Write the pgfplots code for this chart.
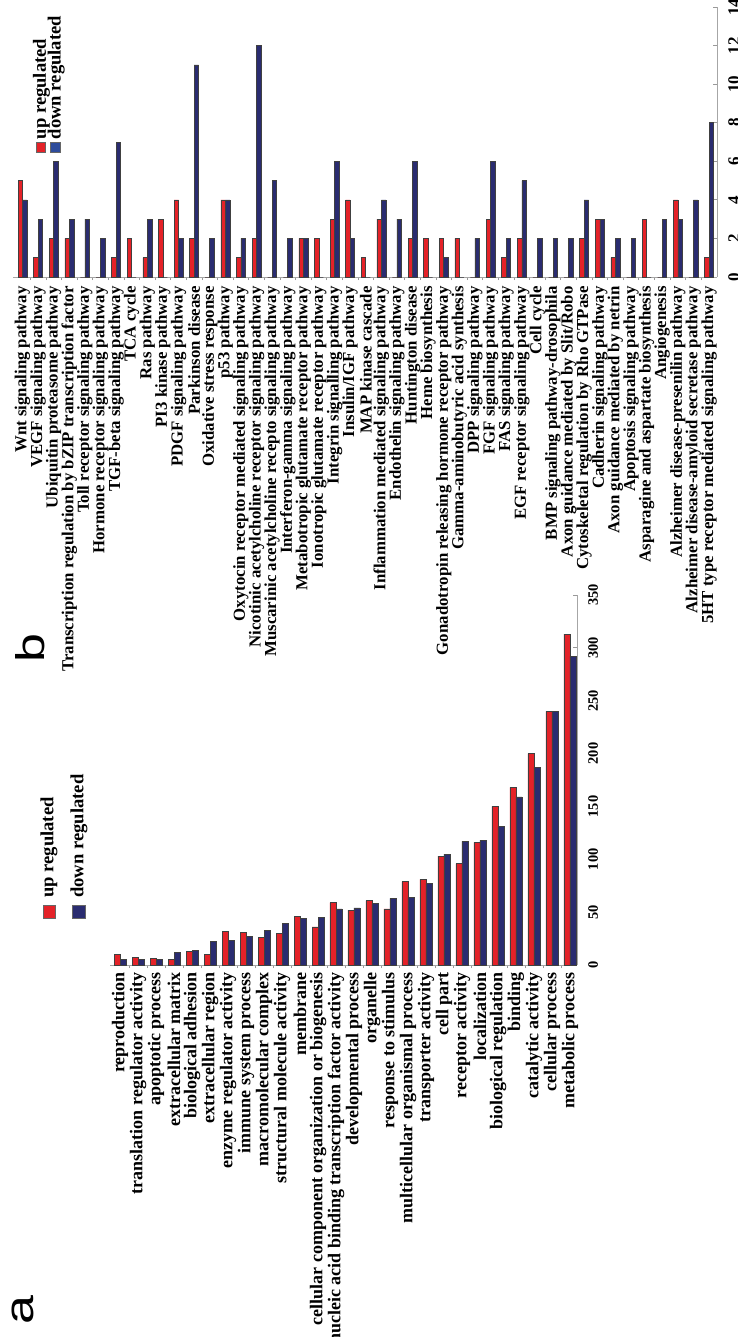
\documentclass[border=0pt]{standalone}
\usepackage{fontspec}
\setmainfont{Liberation Serif}
\newfontfamily\panelfont{Liberation Sans}
\usepackage{pgfplots}
\pgfplotsset{compat=1.18}
\definecolor{upred}{RGB}{228,34,40}
\definecolor{downblue}{RGB}{42,44,112}
\definecolor{legblue}{RGB}{45,75,155}
\tikzset{legtext/.style={rotate=90, anchor=west, inner sep=0pt, font=\bfseries\fontsize{9.3}{9.3}\selectfont}}

\begin{document}
\begin{tikzpicture}
\pgfplotsset{
  gobar/.style={
    ybar=0pt, scale only axis, clip=false,
    axis x line*=bottom, axis y line*=right,
    axis line style={gray!70, line width=0.5pt},
    xtick=data, major x tick style={draw=none},
    minor x tick num=1, minor x tick style={gray!80, line width=0.4pt},
    minor tick length=1.6pt, major tick length=2pt,
    ymin=0, enlarge y limits=false,
    ytick style={gray!80, line width=0.4pt},
    /pgf/number format/assume math mode=true,
    xticklabel style={rotate=90, anchor=east, inner sep=0pt},
    yticklabel style={rotate=90, anchor=north, inner sep=0pt},
    every axis plot/.append style={draw=black!75, line width=0.3pt},
  },
}
% ---------------- panel b ----------------
\begin{axis}[gobar,
  at={(6.5pt,-138.5pt)}, anchor=south west,
  width=352pt, height=135pt,
  xmin=-0.609, xmax=44.51, ymax=14, ytick={0,2,...,14},
  bar width=2.25pt,
  xticklabel shift=2.5pt, yticklabel shift=5.5pt,
  xticklabel style={font=\bfseries\fontsize{8.4}{8.4}\selectfont},
  yticklabel style={font=\bfseries\fontsize{8.5}{8.5}\selectfont},
  xticklabels={Wnt signaling pathway, VEGF signaling pathway, Ubiquitin proteasome pathway, Transcription regulation by bZIP transcription factor, Toll receptor signaling pathway, Hormone receptor signaling pathway, TGF-beta signaling pathway, TCA cycle, Ras pathway, PI3 kinase pathway, PDGF signaling pathway, Parkinson disease, Oxidative stress response, p53 pathway, Oxytocin receptor mediated signaling pathway, Nicotinic acetylcholine receptor signaling pathway, Muscarinic acetylcholine recepto signaling pathway, Interferon-gamma signaling pathway, Metabotropic glutamate receptor pathway, Ionotropic glutamate receptor pathway, Integrin signalling pathway, Insulin/IGF pathway, MAP kinase cascade, Inflammation mediated signaling pathway, Endothelin signaling pathway, Huntington disease, Heme biosynthesis, Gonadotropin releasing hormone receptor pathway, Gamma-aminobutyric acid synthesis, DPP signaling pathway, FGF signaling pathway, FAS signaling pathway, EGF receptor signaling pathway, Cell cycle, BMP signaling pathway-drosophila, Axon guidance mediated by Slit/Robo, Cytoskeletal regulation by Rho GTPase, Cadherin signaling pathway, Axon guidance mediated by netrin, Apoptosis signaling pathway, Asparagine and aspartate biosynthesis, Angiogenesis, Alzheimer disease-presenilin pathway, Alzheimer disease-amyloid secretase pathway, 5HT type receptor mediated signaling pathway},
]
\addplot[fill=upred] coordinates {
(0,5) (1,1) (2,2) (3,2) (4,0) (5,0) (6,1) (7,2) (8,1) (9,3)
(10,4) (11,2) (12,0) (13,4) (14,1) (15,2) (16,0) (17,0) (18,2) (19,2)
(20,3) (21,4) (22,1) (23,3) (24,0) (25,2) (26,2) (27,2) (28,2) (29,0)
(30,3) (31,1) (32,2) (33,0) (34,0) (35,0) (36,2) (37,3) (38,1) (39,0)
(40,3) (41,0) (42,4) (43,0) (44,1)};
\addplot[fill=downblue] coordinates {
(0,4) (1,3) (2,6) (3,3) (4,3) (5,2) (6,7) (7,0) (8,3) (9,0)
(10,2) (11,11) (12,2) (13,4) (14,2) (15,12) (16,5) (17,2) (18,2) (19,0)
(20,6) (21,2) (22,0) (23,4) (24,3) (25,6) (26,0) (27,1) (28,0) (29,2)
(30,6) (31,2) (32,5) (33,2) (34,2) (35,2) (36,4) (37,3) (38,2) (39,2)
(40,0) (41,3) (42,3) (43,4) (44,8)};
% legend
\filldraw[fill=upred, draw=black!60, line width=0.3pt] (axis description cs:0.0327,0.463) rectangle (axis description cs:0.0455,0.5);
\filldraw[fill=legblue, draw=black!60, line width=0.3pt] (axis description cs:0.0526,0.463) rectangle (axis description cs:0.0668,0.5);
\node[legtext] at (axis description cs:0.0405,0.509) {up regulated};
\node[legtext] at (axis description cs:0.0615,0.509) {down regulated};
\end{axis}
% ---------------- panel a ----------------
\begin{axis}[gobar,
  at={(55pt,-482.5pt)}, anchor=south west,
  width=233.5pt, height=185pt,
  xmin=-0.556, xmax=25.39, ymax=350, ytick={0,50,...,350},
  bar width=3pt,
  xticklabel shift=1.5pt, yticklabel shift=5.5pt,
  xticklabel style={font=\bfseries\fontsize{9}{9}\selectfont},
  yticklabel style={font=\bfseries\fontsize{7.2}{7.2}\selectfont},
  xticklabels={reproduction, translation regulator activity, apoptotic process, extracellular matrix, biological adhesion, extracellular region, enzyme regulator activity, immune system process, macromolecular complex, structural molecule activity, membrane, cellular component organization or biogenesis, nucleic acid binding transcription factor activity, developmental process, organelle, response to stimulus, multicellular organismal process, transporter activity, cell part, receptor activity, localization, biological regulation, binding, catalytic activity, cellular process, metabolic process},
]
\addplot[fill=upred] coordinates {
(0,10) (1,7) (2,6) (3,5) (4,13) (5,10) (6,32) (7,31) (8,26) (9,30)
(10,46) (11,36) (12,59) (13,52) (14,61) (15,53) (16,79) (17,81) (18,103) (19,96)
(20,116) (21,150) (22,168) (23,200) (24,240) (25,313)};
\addplot[fill=downblue] coordinates {
(0,5) (1,5) (2,5) (3,12) (4,14) (5,22) (6,23) (7,27) (8,33) (9,39)
(10,44) (11,45) (12,53) (13,54) (14,58) (15,63) (16,64) (17,77) (18,105) (19,117)
(20,118) (21,131) (22,159) (23,187) (24,240) (25,292)};
% legend
\filldraw[fill=upred, draw=black!60, line width=0.3pt] (axis description cs:-0.1435,0.127) rectangle (axis description cs:-0.1178,0.162);
\filldraw[fill=downblue, draw=black!60, line width=0.3pt] (axis description cs:-0.0814,0.127) rectangle (axis description cs:-0.0535,0.162);
\node[legtext] at (axis description cs:-0.1306,0.181) {up regulated};
\node[legtext] at (axis description cs:-0.0664,0.181) {down regulated};
\end{axis}
\node[rotate=90, font=\panelfont\fontsize{20}{20}\selectfont] at (15pt,-324pt) {\scalebox{1.3}[1]{b}};
\node[rotate=90, font=\panelfont\fontsize{20}{20}\selectfont] at (11.5pt,-655pt) {\scalebox{1.3}[1]{a}};
\pgfresetboundingbox
\path[use as bounding box] (0pt,0pt) rectangle (369pt,-668.5pt);
\end{tikzpicture}
\end{document}
